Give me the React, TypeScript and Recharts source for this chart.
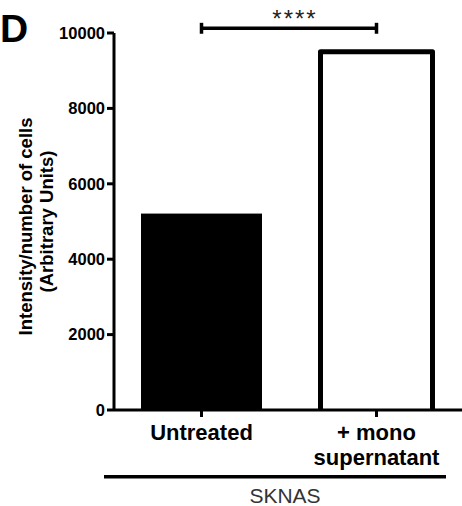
import React from 'react';
import { BarChart, Bar, XAxis, YAxis, ReferenceLine, Label } from 'recharts';

const categories = ['Untreated', '+ mono supernatant'];
const values = [5210, 9500];
const tickLines: Record<string, string[]> = {
  'Untreated': ['Untreated'],
  '+ mono supernatant': ['+ mono', 'supernatant'],
};
const yTicks = [0, 2000, 4000, 6000, 8000, 10000];
const yLabelLines = ['Intensity/number of cells', '(Arbitrary Units)'];
const groupLabel = 'SKNAS';
const significance = '****';
const panelLetter = 'D';
const bracketY = 10125;
const bracketTickLow = 9980;
const bracketTickHigh = 10270;

const data = categories.map((name, i) => ({ name, value: values[i] }));

const FONT = '"Liberation Sans", Arial, Helvetica, sans-serif';

const XTick = (props: any) => {
  const { x, y, payload } = props;
  const lines = tickLines[payload.value] || [payload.value];
  return (
    <text x={x} y={y} textAnchor="middle" fontFamily={FONT} fontWeight="bold" fontSize={22} fill="#000">
      {lines.map((l, i) => (
        <tspan key={i} x={x} dy={i === 0 ? 21 : 25}>{l}</tspan>
      ))}
    </text>
  );
};

const BarShape = (props: any) => {
  const { x, y, width, height, index } = props;
  if (index === 0) {
    return <rect x={x} y={y} width={width} height={height} fill="#000" />;
  }
  const l = x + 4.5;
  const r = x + width - 4.5;
  const b = y + height;
  return (
    <g>
      <rect x={l} y={y} width={r - l} height={height} fill="#fff" />
      <path d={`M${l},${b} L${l},${y} L${r},${y} L${r},${b}`} fill="none" stroke="#000" strokeWidth={5} strokeLinejoin="round" />
    </g>
  );
};

const YLabel = (props: any) => {
  const vb = props.viewBox || {};
  const cy = vb.y + vb.height / 2;
  return (
    <g fontFamily={FONT} fontWeight="bold" fill="#000">
      <text x={0} y={42} fontSize={39}>{panelLetter}</text>
      <text x={32} y={cy + 5} fontSize={18.5} textAnchor="middle" transform={`rotate(-90, 32, ${cy + 5})`}>{yLabelLines[0]}</text>
      <text x={53} y={cy} fontSize={18.5} textAnchor="middle" transform={`rotate(-90, 53, ${cy})`}>{yLabelLines[1]}</text>
    </g>
  );
};

const XGroupLabel = (props: any) => {
  const vb = props.viewBox || {};
  const ly = vb.y + 66.7;
  return (
    <g>
      <line x1={vb.x - 10} x2={vb.x + 332} y1={ly} y2={ly} stroke="#000" strokeWidth={3.5} />
      <text x={vb.x + 171} y={vb.y + 93} textAnchor="middle" fontFamily={FONT} fontSize={21} fill="#333">{groupLabel}</text>
    </g>
  );
};

const StarLabel = (props: any) => {
  const vb = props.viewBox || {};
  const cx = vb.x + vb.width / 2 + 6;
  return (
    <text x={cx} y={vb.y - 1} textAnchor="middle" fontFamily={FONT} fontSize={24} letterSpacing={2} fill="#222">{significance}</text>
  );
};

export default function App() {
  return (
    <div style={{ position: 'absolute', left: 0, top: 0, width: 462, height: 506, overflow: 'hidden', background: '#fff' }}>
      <BarChart width={464} height={506} data={data} margin={{ top: 33, right: 0, bottom: 0, left: 0 }} style={{ fontFamily: FONT }}>
        <XAxis
          dataKey="name"
          height={96}
          tickSize={7}
          tickLine={{ stroke: '#000', strokeWidth: 3 }}
          axisLine={{ stroke: '#000', strokeWidth: 3 }}
          tick={<XTick />}
          interval={0}
        >
          <Label content={<XGroupLabel />} />
        </XAxis>
        <YAxis
          width={114}
          domain={[0, 10000]}
          ticks={yTicks}
          interval={0}
          tickSize={7}
          tickMargin={2}
          tickLine={{ stroke: '#000', strokeWidth: 3 }}
          axisLine={{ stroke: '#000', strokeWidth: 3 }}
          tick={{ fontSize: 16.5, fontWeight: 'bold', fill: '#000', fontFamily: FONT }}
        >
          <Label content={<YLabel />} />
        </YAxis>
        <Bar dataKey="value" barSize={121} isAnimationActive={false} shape={<BarShape />} />
        <ReferenceLine
          segment={[{ x: categories[0], y: bracketY }, { x: categories[1], y: bracketY }]}
          stroke="#000"
          strokeWidth={3.5}
          ifOverflow="visible"
        >
          <Label content={<StarLabel />} />
        </ReferenceLine>
        <ReferenceLine
          segment={[{ x: categories[0], y: bracketTickLow }, { x: categories[0], y: bracketTickHigh }]}
          stroke="#000"
          strokeWidth={3.5}
          ifOverflow="visible"
        />
        <ReferenceLine
          segment={[{ x: categories[1], y: bracketTickLow }, { x: categories[1], y: bracketTickHigh }]}
          stroke="#000"
          strokeWidth={3.5}
          ifOverflow="visible"
        />
      </BarChart>
    </div>
  );
}
